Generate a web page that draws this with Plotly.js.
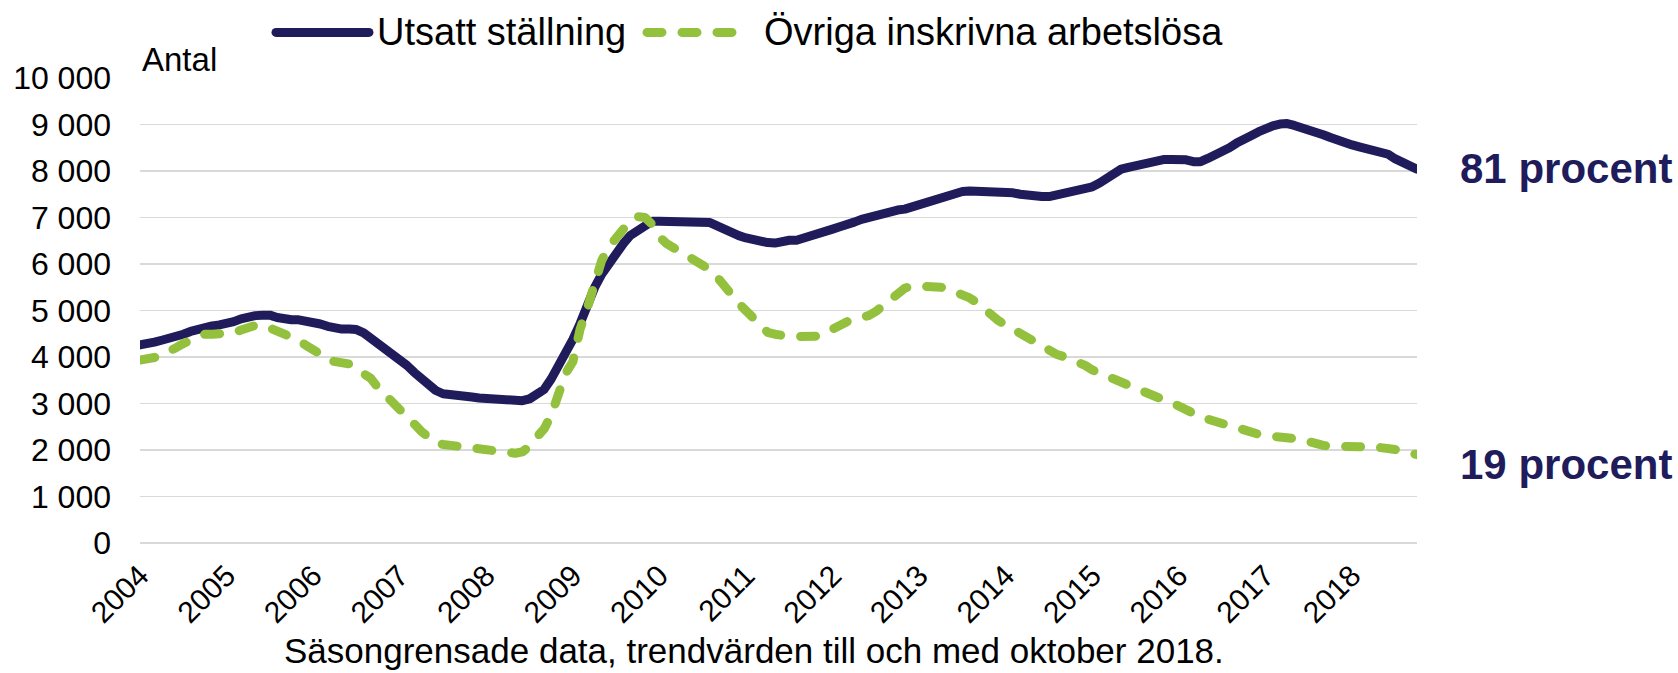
<!DOCTYPE html>
<html>
<head>
<meta charset="utf-8">
<script src="https://cdn.plot.ly/plotly-3.0.1.min.js"></script>
<style>
  html, body { margin: 0; padding: 0; background: #fff; }
  #chart { width: 1678px; height: 673px; }
  .scatterlayer .js-line { stroke-linecap: round; stroke-linejoin: round; }
  .shapelayer path { stroke-linecap: round; }
</style>
</head>
<body>
<div id="chart"></div>
<script>
// Tick labels (one per January)
const years = ["2004","2005","2006","2007","2008","2009","2010","2011","2012","2013","2014","2015","2016","2017","2018"];

// Monthly categories, Jan 2004 – Oct 2018
const months = [];
for (let y = 2004; y <= 2018; y++) {
  for (let m = 1; m <= 12; m++) {
    if (y === 2018 && m > 10) break;
    months.push(y + "-" + (m < 10 ? "0" + m : m));
  }
}

const seriesNames = ["Utsatt ställning", "Övriga inskrivna arbetslösa"];

// Utsatt ställning (antal), monthly trend values
const utsatt = [
4260,4270,4320,4360,4390,4440,4490,4550,4600,4640,
4670,4690,4710,4760,4820,4870,4890,4900,4900,4850,
4810,4800,4800,4780,4760,4710,4660,4620,4600,4600,
4590,4520,4410,4270,4170,4080,3950,3820,3670,3520,
3390,3280,3210,3200,3200,3180,3140,3120,3110,3080,
3060,3050,3050,3060,3100,3190,3300,3530,3800,4050,
4380,4720,5130,5490,5780,6030,6250,6440,6620,6740,
6850,6920,6920,6920,6920,6920,6920,6920,6920,6890,
6820,6740,6690,6610,6560,6510,6460,6460,6450,6500,
6510,6510,6550,6600,6650,6700,6750,6800,6830,6900,
6960,7010,7060,7110,7150,7160,7180,7230,7240,7300,
7380,7430,7480,7520,7560,7570,7570,7570,7560,7550,
7540,7530,7500,7470,7450,7450,7450,7480,7510,7560,
7600,7630,7660,7740,7840,7940,8040,8080,8120,8150,
8180,8200,8250,8250,8250,8240,8200,8200,8270,8330,
8420,8500,8600,8700,8760,8840,8920,8970,9010,9020,
8980,8940,8890,8840,8780,8720,8650,8610,8560,8520,
8470,8450,8420,8360,8260,8190,8120,8040];

// Övriga inskrivna arbetslösa (antal)
const ovriga = [
3935,3950,3990,4050,4110,4200,4290,4360,4440,4490,
4490,4490,4490,4520,4580,4640,4680,4690,4630,4580,
4500,4420,4360,4250,4170,4060,3930,3890,3870,3850,
3740,3650,3540,3340,3170,3010,2870,2720,2560,2400,
2250,2150,2120,2100,2090,2050,2020,2020,2020,1980,
1940,1930,1930,1960,2080,2280,2450,2750,3150,3650,
3900,4600,5050,5570,6080,6370,6580,6760,6940,7020,
7000,6850,6580,6440,6350,6280,6180,6090,5990,5880,
5720,5560,5340,5150,4990,4820,4650,4530,4490,4450,
4440,4440,4440,4440,4450,4520,4610,4690,4760,4820,
4860,4890,4980,5120,5250,5400,5480,5530,5530,5530,
5520,5500,5460,5410,5360,5270,5170,5030,4920,4780,
4690,4600,4510,4410,4320,4220,4120,4060,4010,3960,
3900,3820,3720,3650,3600,3560,3460,3380,3320,3250,
3190,3130,3070,3020,2960,2880,2790,2710,2650,2600,
2570,2530,2470,2420,2370,2340,2310,2300,2290,2290,
2260,2230,2180,2120,2100,2080,2070,2070,2070,2070,
2070,2070,2060,2040,2010,1970,1930,1900];

const shareLabels = ["81 procent", "19 procent"];
const yAxisLabel = "Antal";
const note = "Säsongrensade data, trendvärden till och med oktober 2018.";

const NAVY = "#201C5C";
const GREEN = "#93C13E";
const FONT = '"Liberation Sans", Arial, Helvetica, sans-serif';

const idx = months.map((_, i) => i);
const tickvals = years.map(y => months.indexOf(y + "-01"));

const traces = [
  { x: idx, y: utsatt, name: seriesNames[0], type: "scatter", mode: "lines",
    line: { color: NAVY, width: 9 }, text: months, hoverinfo: "text+y" },
  { x: idx, y: ovriga, name: seriesNames[1], type: "scatter", mode: "lines",
    line: { color: GREEN, width: 9, dash: "15px,20px" }, text: months, hoverinfo: "text+y" }
];

const layout = {
  width: 1678, height: 673,
  margin: { l: 140, r: 261, t: 78, b: 130, pad: 0 },
  paper_bgcolor: "#fff", plot_bgcolor: "#fff",
  separators: ", ",
  showlegend: false,
  font: { family: FONT, color: "#000", size: 32 },
  xaxis: {
    type: "linear", range: [0, months.length - 1],
    tickvals: tickvals, ticktext: years, tickangle: -45,
    showgrid: false, zeroline: false, showline: false, ticks: "",
    ticklabelstandoff: 8,
    tickfont: { family: FONT, size: 30, color: "#000" }
  },
  yaxis: {
    range: [0, 10000], tick0: 0, dtick: 1000, tickformat: ",",
    showgrid: true, gridcolor: "#d9d9d9", gridwidth: 1.5,
    zeroline: true, zerolinecolor: "#d9d9d9", zerolinewidth: 1.5,
    showline: false, ticks: "", ticklabelstandoff: 28,
    tickfont: { family: FONT, size: 32, color: "#000" }
  },
  shapes: [
    { type: "line", xref: "paper", yref: "paper", x0: 0.1065, x1: 0.1793, y0: 1.098, y1: 1.098,
      line: { color: NAVY, width: 9 } },
    { type: "line", xref: "paper", yref: "paper", x0: 0.397, x1: 0.477, y0: 1.098, y1: 1.098,
      line: { color: GREEN, width: 9, dash: "15px,20px" } }
  ],
  annotations: [
    { text: seriesNames[0], xref: "paper", yref: "paper", x: 0.184, y: 1.098,
      xanchor: "left", yanchor: "middle", showarrow: false,
      font: { family: FONT, size: 38, color: "#000" } },
    { text: seriesNames[1], xref: "paper", yref: "paper", x: 0.487, y: 1.098,
      xanchor: "left", yanchor: "middle", showarrow: false,
      font: { family: FONT, size: 38, color: "#000" } },
    { text: yAxisLabel, xref: "paper", yref: "paper", x: 0.0, y: 1.04,
      xanchor: "left", yanchor: "middle", showarrow: false,
      font: { family: FONT, size: 33, color: "#000" } },
    { text: "<b>" + shareLabels[0] + "</b>", xref: "paper", yref: "paper", x: 1.032, y: 0.806,
      xanchor: "left", yanchor: "middle", showarrow: false,
      font: { family: FONT, size: 42, color: NAVY } },
    { text: "<b>" + shareLabels[1] + "</b>", xref: "paper", yref: "paper", x: 1.032, y: 0.168,
      xanchor: "left", yanchor: "middle", showarrow: false,
      font: { family: FONT, size: 42, color: NAVY } },
    { text: note, xref: "paper", yref: "paper", x: 0.481, y: -0.232,
      xanchor: "center", yanchor: "middle", showarrow: false,
      font: { family: FONT, size: 35, color: "#000" } }
  ]
};

Plotly.newPlot("chart", traces, layout, { displayModeBar: false, staticPlot: true });
</script>
</body>
</html>
